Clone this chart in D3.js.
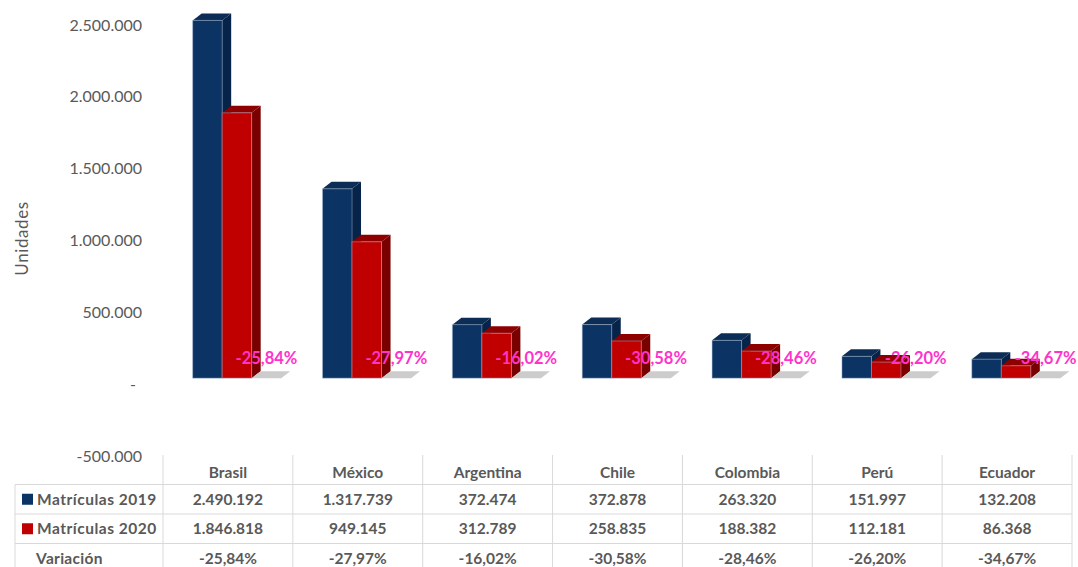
<!DOCTYPE html>
<html>
<head>
<meta charset="utf-8">
<script src="https://cdn.jsdelivr.net/npm/d3@7"></script>
<style>
  body { margin: 0; background: #fff; }
  svg { font-family: Lato, "Open Sans", sans-serif; }
</style>
</head>
<body>
<svg id="chart" width="1078" height="567"></svg>
<script>
var countries = ["Brasil", "México", "Argentina", "Chile", "Colombia", "Perú", "Ecuador"];
var matriculas2019 = [2490192, 1317739, 372474, 372878, 263320, 151997, 132208];
var matriculas2020 = [1846818, 949145, 312789, 258835, 188382, 112181, 86368];
var variacion = [-0.2584, -0.2797, -0.1602, -0.3058, -0.2846, -0.2620, -0.3467];
var yTicks = [-500000, 0, 500000, 1000000, 1500000, 2000000, 2500000];
var seriesNames = ["Matrículas 2019", "Matrículas 2020", "Variación"];

var svg = d3.select("#chart"),
    textColor = "#595959",
    gridColor = "#d9d9d9",
    depth = { x: 9, y: 7 },      // 3D depth of the bars
    front = { x: 9, y: -6 };     // front plane shift vs. the axis wall

var loc = d3.formatLocale({ decimal: ",", thousands: ".", grouping: [3], currency: ["", ""], minus: "-" });
var fmtNum = loc.format(",d"),
    fmtPct = loc.format(".2%");

var y = d3.scaleLinear().domain([-500000, 2500000]).range([456, 25]);
var x0 = d3.scaleBand().domain(countries).range([163, 1072]);
var x1 = d3.scaleBand().domain(seriesNames).range([0, x0.bandwidth()]).paddingOuter(0.7);

// y axis labels
svg.append("g").selectAll("text")
  .data(yTicks)
  .enter().append("text")
  .attr("x", 142)
  .attr("y", function (d) { return y(d); })
  .attr("dy", "0.35em")
  .attr("text-anchor", function (d) { return d === 0 ? "middle" : "end"; })
  .attr("dx", function (d) { return d === 0 ? -9 : 0; })
  .attr("fill", textColor)
  .style("font-size", "16px")
  .text(function (d) { return d === 0 ? "-" : fmtNum(d); });

svg.append("text")
  .attr("transform", "translate(22," + (y(1000000) - 2) + ") rotate(-90)")
  .attr("text-anchor", "middle")
  .attr("dy", "0.35em")
  .attr("fill", textColor)
  .style("font-size", "17px")
  .style("letter-spacing", "0.6px")
  .text("Unidades");

// bar data
var bars = [];
countries.forEach(function (c, i) {
  bars.push({ c: c, s: seriesNames[0], v: matriculas2019[i], front: "#0b3363", side: "#062349", top: "#0c2d55" });
  bars.push({ c: c, s: seriesNames[1], v: matriculas2020[i], front: "#c00000", side: "#7a0000", top: "#8e0000" });
  bars.push({ c: c, s: seriesNames[2], v: 0, pct: variacion[i], front: "#c8c8c8", side: "#c8c8c8", top: "#cccccc" });
});

function bx(d) { return x0(d.c) + x1(d.s) + front.x; }
function by(d) { return y(Math.max(d.v, 0)) + front.y; }
var base = y(0) + front.y, bw = x1.bandwidth();

var g = svg.append("g");
var bar = g.selectAll("g.bar")
  .data(bars)
  .enter().append("g").attr("class", "bar");

// side face
bar.append("path")
  .attr("fill", function (d) { return d.side; })
  .attr("d", function (d) {
    var x = bx(d) + bw, t = by(d);
    return "M" + x + "," + base + "L" + x + "," + t + "L" + (x + depth.x) + "," + (t - depth.y) +
      "L" + (x + depth.x) + "," + (base - depth.y) + "Z";
  });

// top face
bar.append("path")
  .attr("fill", function (d) { return d.top; })
  .attr("d", function (d) {
    var x = bx(d), t = by(d);
    return "M" + x + "," + t + "L" + (x + depth.x) + "," + (t - depth.y) + "L" + (x + bw + depth.x) + "," + (t - depth.y) +
      "L" + (x + bw) + "," + t + "Z";
  });

// front face
bar.filter(function (d) { return d.v > 0; }).append("rect")
  .attr("x", bx)
  .attr("y", by)
  .attr("width", bw)
  .attr("height", function (d) { return base - by(d); })
  .attr("fill", function (d) { return d.front; })
  .attr("stroke", "#a9bbd3")
  .attr("stroke-opacity", 0.45)
  .attr("stroke-width", 1);

// variation labels
g.selectAll("text.pct")
  .data(bars.filter(function (d) { return d.pct !== undefined; }))
  .enter().append("text")
  .attr("class", "pct")
  .attr("x", function (d) { return bx(d) + bw / 2; })
  .attr("y", base - 20)
  .attr("dy", "0.35em")
  .attr("text-anchor", "middle")
  .attr("fill", "#ff33cc")
  .style("font-size", "16.5px")
  .style("font-weight", "bold")
  .text(function (d) { return fmtPct(d.pct); });

// data table
var rowTop = 455, rowH = 29.5, tableLeft = 15, tableRight = 1072;
var rows = [
  { label: seriesNames[0], color: "#0b3363", vals: matriculas2019.map(fmtNum) },
  { label: seriesNames[1], color: "#c00000", vals: matriculas2020.map(fmtNum) },
  { label: seriesNames[2], color: null, vals: variacion.map(fmtPct) }
];
var table = svg.append("g").attr("stroke", gridColor).attr("stroke-width", 1);

// horizontal lines
[1, 2, 3].forEach(function (r) {
  table.append("line")
    .attr("x1", tableLeft).attr("x2", tableRight)
    .attr("y1", rowTop + r * rowH).attr("y2", rowTop + r * rowH);
});
// vertical lines
table.append("line")
  .attr("x1", tableLeft).attr("x2", tableLeft)
  .attr("y1", rowTop + rowH).attr("y2", 567);
x0.domain().concat(["end"]).forEach(function (c) {
  var xx = c === "end" ? tableRight : x0(c);
  table.append("line")
    .attr("x1", xx).attr("x2", xx)
    .attr("y1", rowTop).attr("y2", 567);
});

var tt = svg.append("g")
  .attr("fill", textColor)
  .style("font-size", "15.5px")
  .style("font-weight", "bold");

tt.selectAll("text.head")
  .data(countries)
  .enter().append("text")
  .attr("x", function (d) { return x0(d) + x0.bandwidth() / 2; })
  .attr("y", rowTop + rowH / 2 + 3)
  .attr("dy", "0.35em")
  .attr("text-anchor", "middle")
  .text(function (d) { return d; });

rows.forEach(function (r, ri) {
  var cy = rowTop + (ri + 1.5) * rowH;
  if (r.color) {
    svg.append("rect")
      .attr("x", 22).attr("y", cy - 5.5)
      .attr("width", 11).attr("height", 11)
      .attr("fill", r.color);
  }
  tt.append("text")
    .attr("x", r.color ? 37 : 36)
    .attr("y", cy)
    .attr("dy", "0.35em")
    .style("letter-spacing", r.color ? "0.5px" : "0.3px")
    .text(r.label);
  tt.selectAll(null)
    .data(r.vals)
    .enter().append("text")
    .attr("x", function (d, i) { return x0(countries[i]) + x0.bandwidth() / 2; })
    .attr("y", cy)
    .attr("dy", "0.35em")
    .attr("text-anchor", "middle")
    .text(function (d) { return d; });
});
</script>
</body>
</html>
